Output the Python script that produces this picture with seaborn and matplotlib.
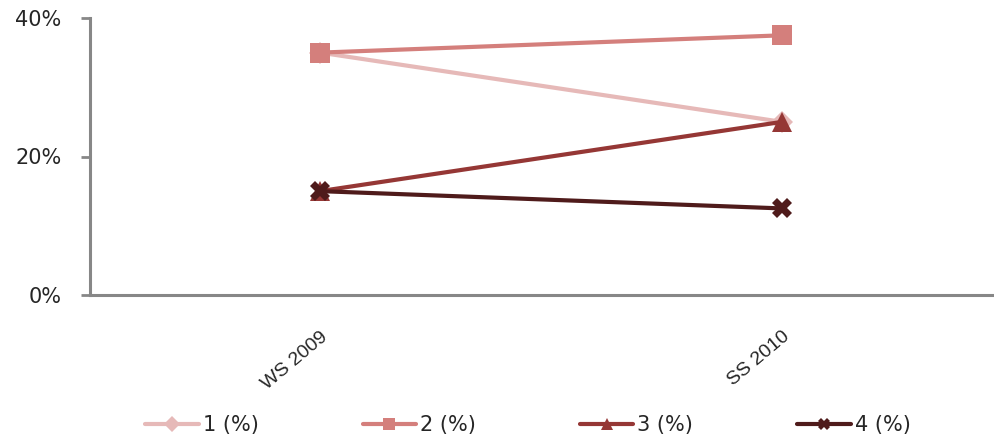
import pandas as pd
import numpy as np
import matplotlib
matplotlib.use("Agg")
import matplotlib.pyplot as plt
import seaborn as sns
from matplotlib.ticker import PercentFormatter

semesters = ["WS 2009", "SS 2010"]
series_names = ["1 (%)", "2 (%)", "3 (%)", "4 (%)"]
s1 = [35.0, 25.0]
s2 = [35.0, 37.5]
s3 = [15.0, 25.0]
s4 = [15.0, 12.5]
colors = ["#E6B9B8", "#D47F7C", "#953735", "#4F1B1B"]
markers = ["D", "s", "^", "X"]

rows = []
for name, vals in zip(series_names, [s1, s2, s3, s4]):
    for i, v in enumerate(vals):
        rows.append({"semester": i, "label": semesters[i], "series": name, "value": v})
df = pd.DataFrame(rows)

sns.set_style("white")
plt.rcParams["font.family"] = ["DejaVu Sans"]

fig = plt.figure(figsize=(9.95, 4.41), dpi=100)
ax = fig.add_axes([90 / 995, (441 - 295) / 441, 905 / 995, 277 / 441])

sns.lineplot(data=df, x="semester", y="value", hue="series", style="series",
             palette=dict(zip(series_names, colors)),
             markers=dict(zip(series_names, markers)), dashes=False,
             linewidth=3.0, markersize=15, markeredgewidth=0, ax=ax, legend=True)
# diamond sits behind the other markers, keep it a bit smaller
ax.lines[0].set_markersize(11)

ax.set_xlim(-0.498, 1.461)
ax.set_ylim(0, 40)
ax.set_yticks([0, 20, 40])
ax.yaxis.set_major_formatter(PercentFormatter(decimals=0))
ax.set_xticks([0, 1])
ax.set_xticklabels(semesters, rotation=40, ha="right", va="top", rotation_mode="anchor",
                   fontsize=14, family="Liberation Sans")
ax.set_xlabel("")
ax.set_ylabel("")
ax.tick_params(axis="y", labelsize=15, length=6.5, width=2, color="#878787", left=True, pad=14)
ax.tick_params(axis="x", length=0, pad=24)

for side in ["top", "right"]:
    ax.spines[side].set_visible(False)
for side in ["left", "bottom"]:
    ax.spines[side].set_color("#878787")
    ax.spines[side].set_linewidth(2.2)

handles, labels = ax.get_legend_handles_labels()
leg = ax.legend(handles, labels, loc="center", bbox_to_anchor=(0.484, -0.47), ncol=4,
                frameon=False, fontsize=15, handlelength=2.55, handletextpad=0.2,
                columnspacing=5.0, markerscale=0.55)

fig.savefig("out.png", dpi=100)
